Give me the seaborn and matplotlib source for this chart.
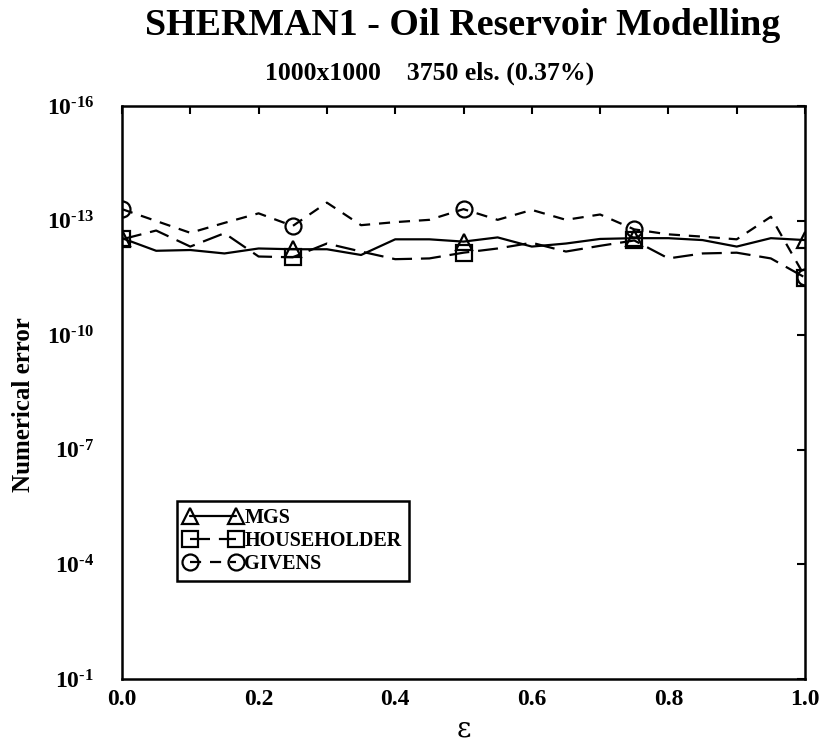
import matplotlib
matplotlib.use("Agg")
import matplotlib.pyplot as plt
import seaborn as sns
import numpy as np

sns.set_theme(style="white")
plt.rcParams['font.family'] = ['Liberation Serif', 'DejaVu Serif']
plt.rcParams['mathtext.fontset'] = 'custom'
plt.rcParams['mathtext.rm'] = 'Liberation Serif:bold'
plt.rcParams['mathtext.bf'] = 'Liberation Serif:bold'

eps = [0.0, 0.05, 0.1, 0.15, 0.2, 0.25, 0.3, 0.35, 0.4, 0.45, 0.5,
       0.55, 0.6, 0.65, 0.7, 0.75, 0.8, 0.85, 0.9, 0.95, 1.0]
mgs_exp = [-12.54, -12.21, -12.23, -12.14, -12.27, -12.25, -12.25, -12.10, -12.51, -12.51, -12.45,
           -12.56, -12.32, -12.40, -12.52, -12.54, -12.54, -12.49, -12.32, -12.54, -12.49]
hh_exp = [-12.51, -12.74, -12.32, -12.67, -12.06, -12.04, -12.40, -12.19, -11.99, -12.01, -12.16,
          -12.27, -12.42, -12.19, -12.34, -12.48, -12.01, -12.14, -12.16, -12.01, -11.51]
giv_exp = [-13.30, -12.99, -12.68, -12.94, -13.19, -12.86, -13.47, -12.88, -12.96, -13.02, -13.30,
           -13.02, -13.28, -13.02, -13.16, -12.77, -12.64, -12.58, -12.51, -13.10, -11.53]
series_names = ["MGS", "HOUSEHOLDER", "GIVENS"]
ytick_exps = [-16, -13, -10, -7, -4, -1]
xticks = [0.0, 0.2, 0.4, 0.6, 0.8, 1.0]

mgs = [10.0 ** e for e in mgs_exp]
hh = [10.0 ** e for e in hh_exp]
giv = [10.0 ** e for e in giv_exp]

fig = plt.figure(figsize=(8.25, 7.49), dpi=100)
ax = fig.add_axes([122/825, 1-679/749, (805-122)/825, (679-106)/749])

styles = [
    (mgs, "^", "-"),
    (hh, "s", (0, (9, 4))),
    (giv, "o", (0, (5, 4))),
]
for (vals, mk, ls), name in zip(styles, series_names):
    sns.lineplot(x=eps, y=vals, ax=ax, color="black", marker=mk, markevery=5,
                 markersize=11.5, markerfacecolor="none", markeredgecolor="black",
                 markeredgewidth=1.6, linewidth=1.6, label=name, errorbar=None)
    ax.lines[-1].set_linestyle(ls)

ax.set_yscale("log")
ax.set_ylim(1e-1, 1e-16)
ax.set_xlim(0, 1)
ax.set_yticks([10.0 ** e for e in ytick_exps])
ax.set_yticklabels([r"$\mathbf{10^{\text{-%d}}}$" % (-e) for e in ytick_exps])
ax.yaxis.set_minor_locator(matplotlib.ticker.NullLocator())
ax.set_xticks(xticks)
ax.set_xticklabels(["%.1f" % v for v in xticks], fontweight="bold")
ax.set_xticks(np.arange(0.1, 1.0, 0.2), minor=True)
ax.tick_params(axis="both", which="both", direction="in", top=True, right=True,
               length=6, width=1.5, color="black", labelcolor="black")
ax.tick_params(axis="y", pad=20, labelsize=17)
ax.tick_params(axis="x", pad=7, labelsize=17)
for sp in ax.spines.values():
    sp.set_linewidth(1.8)
    sp.set_color("black")
ax.grid(False)

ax.set_ylabel("Numerical error", fontsize=18, fontweight="bold", color="black")
ax.yaxis.set_label_coords((35-122)/683, 1-(405-106)/573)
ax.set_xlabel("\u03b5", fontsize=20, color="black", family=["DejaVu Serif"], labelpad=4)

leg = ax.legend(loc="upper left", bbox_to_anchor=((177-122)/683, (679-501)/573),
                numpoints=2, handlelength=2.9, fancybox=False, framealpha=1,
                edgecolor="black", prop={"weight": "bold", "size": 14.5},
                borderpad=0.35, labelspacing=0.15, handletextpad=0.1, borderaxespad=0)
leg.get_frame().set_linewidth(1.8)
for t in leg.get_texts():
    t.set_color("black")

fig.text(463/825, 1-35/749, "SHERMAN1 - Oil Reservoir Modelling", ha="center", va="baseline",
         fontsize=27.3, fontweight="bold", color="black")
fig.text(430/825, 1-80/749, "1000x1000    3750 els. (0.37%)", ha="center", va="baseline",
         fontsize=18.5, fontweight="bold", color="black")

fig.savefig("out.png", dpi=100, facecolor="white")
